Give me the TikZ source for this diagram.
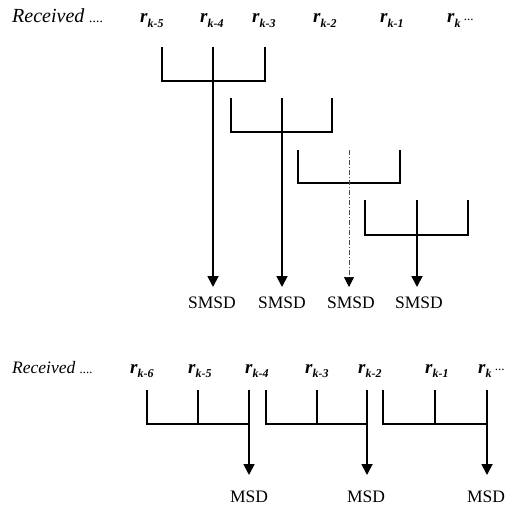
\documentclass[tikz,border=0pt]{standalone}
\usepackage{fontspec}
\setmainfont{Liberation Serif}
\usetikzlibrary{arrows.meta}
\newcommand\rlab[1]{\fontsize{19}{19}\selectfont\textbf{\textit{r}}\raisebox{-0.5ex}{\fontsize{12}{12}\selectfont\textbf{\textit{k-#1}}}}
\newcommand\rlast{\fontsize{19}{19}\selectfont\textbf{\textit{r}}\raisebox{-0.5ex}{\fontsize{12}{12}\selectfont\textbf{\textit{k}}}\,{\fontsize{13}{13}\selectfont\raisebox{0.4ex}{...}}}
\tikzset{
  lab/.style={inner sep=0pt, anchor=base west},
  outlab/.style={inner sep=0pt, anchor=base},
  brk/.style={line width=1.5pt, line join=miter},
  arr/.style={line width=1.8pt, -{Triangle[width=11pt,length=11pt]}},
  darr/.style={line width=0.7pt, dash pattern=on 5pt off 2pt on 1pt off 2pt, black!70, -{Triangle[width=10pt,length=10pt,color=black,fill=black]}},
}
\begin{document}
\begin{tikzpicture}[x=1pt,y=-1pt]
\useasboundingbox (0,0) rectangle (518,505);
% ---------- top part ----------
\node[lab] (rec1) at (12,23) {\fontsize{20}{20}\selectfont\textit{Received} {\fontsize{14}{14}\selectfont\textit{....}}};
\node[lab] (t5) at (140,23) {\rlab{5}};
\node[lab] (t4) at (200,23) {\rlab{4}};
\node[lab] (t3) at (252,23) {\rlab{3}};
\node[lab] (t2) at (313,23) {\rlab{2}};
\node[lab] (t1) at (380,23) {\rlab{1}};
\node[lab] (t0) at (447,23) {\rlast};

\node[outlab] (s1) at (212,308) {\fontsize{17.5}{17.5}\selectfont SMSD};
\node[outlab] (s2) at (282,308) {\fontsize{17.5}{17.5}\selectfont SMSD};
\node[outlab] (s3) at (351,308) {\fontsize{17.5}{17.5}\selectfont SMSD};
\node[outlab] (s4) at (419,308) {\fontsize{17.5}{17.5}\selectfont SMSD};

% bracket 1
\coordinate (a1) at (162,47); \coordinate (a2) at (213,47); \coordinate (a3) at (265,47);
\coordinate (a1b) at (162,81); \coordinate (a3b) at (265,81);
\coordinate (a4) at (213,287);
\draw[brk] (a1) -- (a1b) -- (a3b) -- (a3);
\draw[arr] (a2) -- (a4);
% bracket 2
\coordinate (b1) at (231,98); \coordinate (b2) at (282,98); \coordinate (b3) at (332,98);
\coordinate (b1b) at (231,132); \coordinate (b3b) at (332,132);
\coordinate (b4) at (282,287);
\draw[brk] (b1) -- (b1b) -- (b3b) -- (b3);
\draw[arr] (b2) -- (b4);
% bracket 3
\coordinate (c1) at (298,150); \coordinate (c2) at (349,150); \coordinate (c3) at (400,150);
\coordinate (c1b) at (298,183); \coordinate (c3b) at (400,183);
\coordinate (c4) at (349,287);
\draw[brk] (c1) -- (c1b) -- (c3b) -- (c3);
\draw[darr] (c2) -- (c4);
% bracket 4
\coordinate (d1) at (365,200); \coordinate (d2) at (417,200); \coordinate (d3) at (468,200);
\coordinate (d1b) at (365,235); \coordinate (d3b) at (468,235);
\coordinate (d4) at (417,287);
\draw[brk] (d1) -- (d1b) -- (d3b) -- (d3);
\draw[arr] (d2) -- (d4);

% ---------- bottom part ----------
\node[lab] (rec2) at (12,373) {\fontsize{17.5}{17.5}\selectfont\textit{Received} {\fontsize{13}{13}\selectfont\textit{....}}};
\node[lab] (u6) at (130,373) {\rlab{6}};
\node[lab] (u5) at (188,373) {\rlab{5}};
\node[lab] (u4) at (245,373) {\rlab{4}};
\node[lab] (u3) at (305,373) {\rlab{3}};
\node[lab] (u2) at (358,373) {\rlab{2}};
\node[lab] (u1) at (425,373) {\rlab{1}};
\node[lab] (u0) at (478,373) {\rlast};

\node[outlab] (m1) at (249,502) {\fontsize{17.5}{17.5}\selectfont MSD};
\node[outlab] (m2) at (366,502) {\fontsize{17.5}{17.5}\selectfont MSD};
\node[outlab] (m3) at (486,502) {\fontsize{17.5}{17.5}\selectfont MSD};

% group 1
\coordinate (e1) at (147,390); \coordinate (e2) at (198,390); \coordinate (e3) at (249,390);
\coordinate (e1b) at (147,424); \coordinate (e2b) at (198,424); \coordinate (e3b) at (249,424);
\coordinate (e4) at (249,475);
\draw[brk] (e1) -- (e1b) -- (e3b);
\draw[brk] (e2) -- (e2b);
\draw[arr] (e3) -- (e4);
% group 2
\coordinate (f1) at (266,390); \coordinate (f2) at (317,390); \coordinate (f3) at (367,390);
\coordinate (f1b) at (266,424); \coordinate (f2b) at (317,424); \coordinate (f3b) at (367,424);
\coordinate (f4) at (367,475);
\draw[brk] (f1) -- (f1b) -- (f3b);
\draw[brk] (f2) -- (f2b);
\draw[arr] (f3) -- (f4);
% group 3
\coordinate (g1) at (383,390); \coordinate (g2) at (435,390); \coordinate (g3) at (487,390);
\coordinate (g1b) at (383,424); \coordinate (g2b) at (435,424); \coordinate (g3b) at (487,424);
\coordinate (g4) at (487,475);
\draw[brk] (g1) -- (g1b) -- (g3b);
\draw[brk] (g2) -- (g2b);
\draw[arr] (g3) -- (g4);
\end{tikzpicture}
\end{document}
